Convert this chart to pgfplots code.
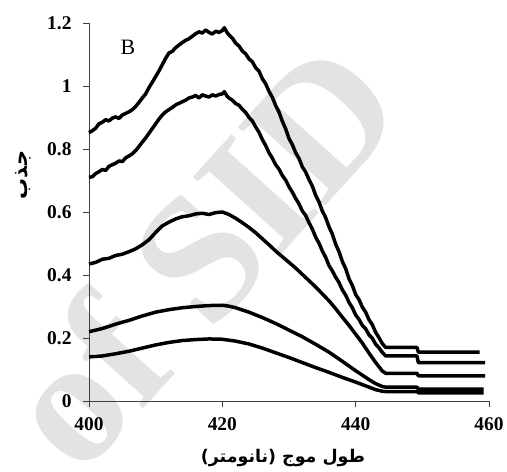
\documentclass[border=0pt]{standalone}
\usepackage{fontspec}
\usepackage{pgfplots}
\pgfplotsset{compat=1.18}
\setmainfont{Liberation Serif}
\newfontfamily\arabicfont[Script=Arabic]{DejaVu Sans}
\TeXXeTstate=1
\begin{document}
\begin{tikzpicture}[x=1bp,y=1bp]
% watermark
\node[rotate=48, text=black!11, font=\fontsize{180}{180}\selectfont\bfseries, inner sep=0pt] at (110,147) {of SID};
\begin{axis}[
  at={(0,0)}, anchor=south west,
  width=400bp, height=378bp, scale only axis,
  xmin=400, xmax=460, ymin=0, ymax=1.2,
  enlargelimits=false,
  axis x line*=bottom, axis y line*=left,
  axis line style={black!75, line width=0.9pt},
  xtick={400,420,440,460},
  ytick={0,0.2,0.4,0.6,0.8,1,1.2},
  yticklabels={0,0.2,0.4,0.6,0.8,1,1.2},
  tick align=outside, major tick length=6bp,
  tick style={black!75, line width=0.9pt},
  tick label style={font=\fontsize{19.5}{22}\selectfont\bfseries},
  /pgf/number format/assume math mode=true,
  xticklabel style={yshift=-7bp},
  yticklabel style={xshift=-8bp},
  clip=false,
  curve/.style={black, line width=3.5pt, line join=round, no markers},
]
\addplot[curve] coordinates {
(400,0.852)(400.5,0.858)(401,0.866)(401.5,0.880)(402,0.885)(402.5,0.893)(403,0.889)(403.5,0.898)
(404,0.902)(404.5,0.897)(405,0.908)(405.5,0.913)(406,0.918)(406.5,0.925)(407,0.935)(407.5,0.948)
(408,0.962)(408.5,0.975)(409,0.995)(409.5,1.012)(410,1.030)(410.5,1.048)(411,1.068)(411.5,1.088)
(412,1.105)(412.5,1.110)(413,1.122)(413.5,1.130)(414,1.138)(414.5,1.145)(415,1.150)(415.5,1.158)
(416,1.166)(416.5,1.172)(417,1.168)(417.5,1.178)(418,1.170)(418.5,1.165)(419,1.174)(419.5,1.170)
(420,1.176)(420.3,1.185)(420.7,1.170)(421,1.162)(421.5,1.152)(422,1.136)(422.5,1.127)(423,1.111)
(423.5,1.102)(424,1.086)(424.5,1.077)(425,1.058)(425.5,1.047)(426,1.023)(426.5,1.007)(427,0.983)
(427.5,0.964)(428,0.938)(428.5,0.917)(429,0.888)(429.5,0.864)(430,0.833)(430.5,0.814)(431,0.788)
(431.5,0.770)(432,0.743)(432.5,0.727)(433,0.703)(433.5,0.682)(434,0.653)(434.5,0.632)(435,0.603)
(435.5,0.582)(436,0.553)(436.5,0.530)(437,0.498)(437.5,0.474)(438,0.443)(438.5,0.420)(439,0.388)
(439.5,0.367)(440,0.338)(440.5,0.322)(441,0.298)(441.5,0.282)(442,0.258)(442.5,0.242)(443,0.218)
(443.5,0.201)(444,0.182)(444.5,0.170)(449.2,0.170)(449.4,0.155)(458.6,0.155)
};
\addplot[curve] coordinates {
(400,0.710)(400.5,0.712)(401,0.722)(401.5,0.728)(402,0.735)(402.5,0.732)(403,0.745)(403.5,0.750)
(404,0.755)(404.5,0.762)(405,0.760)(405.5,0.772)(406,0.778)(406.5,0.785)(407,0.795)(407.5,0.808)
(408,0.822)(408.5,0.835)(409,0.850)(409.5,0.865)(410,0.880)(410.5,0.895)(411,0.908)(411.5,0.918)
(412,0.925)(412.5,0.932)(413,0.940)(413.5,0.945)(414,0.950)(414.5,0.955)(415,0.962)(415.5,0.965)
(416,0.970)(416.5,0.962)(417,0.972)(417.5,0.968)(418,0.965)(418.5,0.972)(419,0.968)(419.5,0.973)
(420,0.975)(420.3,0.982)(420.7,0.968)(421,0.962)(421.5,0.955)(422,0.944)(422.5,0.939)(423,0.926)
(423.5,0.916)(424,0.900)(424.5,0.889)(425,0.870)(425.5,0.853)(426,0.830)(426.5,0.811)(427,0.788)
(427.5,0.771)(428,0.750)(428.5,0.736)(429,0.716)(429.5,0.701)(430,0.680)(430.5,0.663)(431,0.643)
(431.5,0.626)(432,0.603)(432.5,0.589)(433,0.566)(433.5,0.546)(434,0.520)(434.5,0.501)(435,0.476)
(435.5,0.456)(436,0.430)(436.5,0.413)(437,0.393)(437.5,0.376)(438,0.353)(438.5,0.336)(439,0.313)
(439.5,0.296)(440,0.273)(440.5,0.259)(441,0.240)(441.5,0.229)(442,0.210)(442.5,0.199)(443,0.180)
(443.5,0.169)(444,0.154)(444.5,0.143)(449.2,0.143)(449.4,0.122)(459.4,0.122)
};
\addplot[curve] coordinates {
(400,0.435)(401,0.440)(402,0.450)(403,0.453)(404,0.462)(405,0.466)(406,0.474)(407,0.483)
(408,0.496)(409,0.512)(410,0.535)(411,0.556)(412,0.568)(413,0.578)(414,0.585)(415,0.588)
(416,0.594)(417,0.596)(418,0.592)(419,0.598)(420,0.600)(421,0.592)(422,0.580)(423,0.566)
(424,0.551)(425,0.534)(426,0.515)(427,0.496)(428,0.476)(429,0.458)(430,0.440)(431,0.422)
(432,0.402)(433,0.382)(434,0.362)(435,0.340)(436,0.318)(437,0.293)(438,0.266)(439,0.240)
(440,0.212)(441,0.184)(442,0.152)(443,0.122)(444,0.095)(444.5,0.088)(449.2,0.088)(449.4,0.080)(459.4,0.080)
};
\addplot[curve] coordinates {
(400,0.220)(402,0.230)(404,0.244)(406,0.256)(408,0.270)(410,0.282)(412,0.290)(414,0.296)
(416,0.300)(418,0.303)(420,0.304)(421,0.301)(422,0.296)(424,0.282)(426,0.265)(428,0.246)
(430,0.225)(432,0.204)(434,0.180)(436,0.155)(438,0.126)(440,0.096)(441,0.082)(442,0.068)
(443,0.055)(444,0.046)(444.5,0.044)(449.2,0.044)(449.4,0.038)(459.2,0.038)
};
\addplot[curve] coordinates {
(400,0.140)(402,0.143)(404,0.150)(406,0.158)(408,0.168)(410,0.178)(412,0.186)(414,0.192)
(416,0.195)(418,0.197)(420,0.196)(422,0.190)(424,0.181)(426,0.168)(428,0.153)(430,0.138)
(432,0.122)(434,0.106)(436,0.091)(438,0.075)(440,0.060)(441,0.052)(442,0.044)(443,0.036)
(444,0.031)(444.5,0.030)(449.2,0.030)(449.4,0.026)(459.2,0.026)
};
\end{axis}
\node[font=\fontsize{22}{24}\selectfont] at (39,354) {B};
\node[rotate=90, font=\arabicfont\bfseries\fontsize{21}{24}\selectfont] at (-66,226) {\beginR جذب\endR};
\node[font=\arabicfont\bfseries\fontsize{17.5}{20}\selectfont] at (194,-57) {\beginR طول موج (نانومتر)\endR};
\pgfresetboundingbox
\path (-89,-71) rectangle (418,401);
\end{tikzpicture}
\end{document}
